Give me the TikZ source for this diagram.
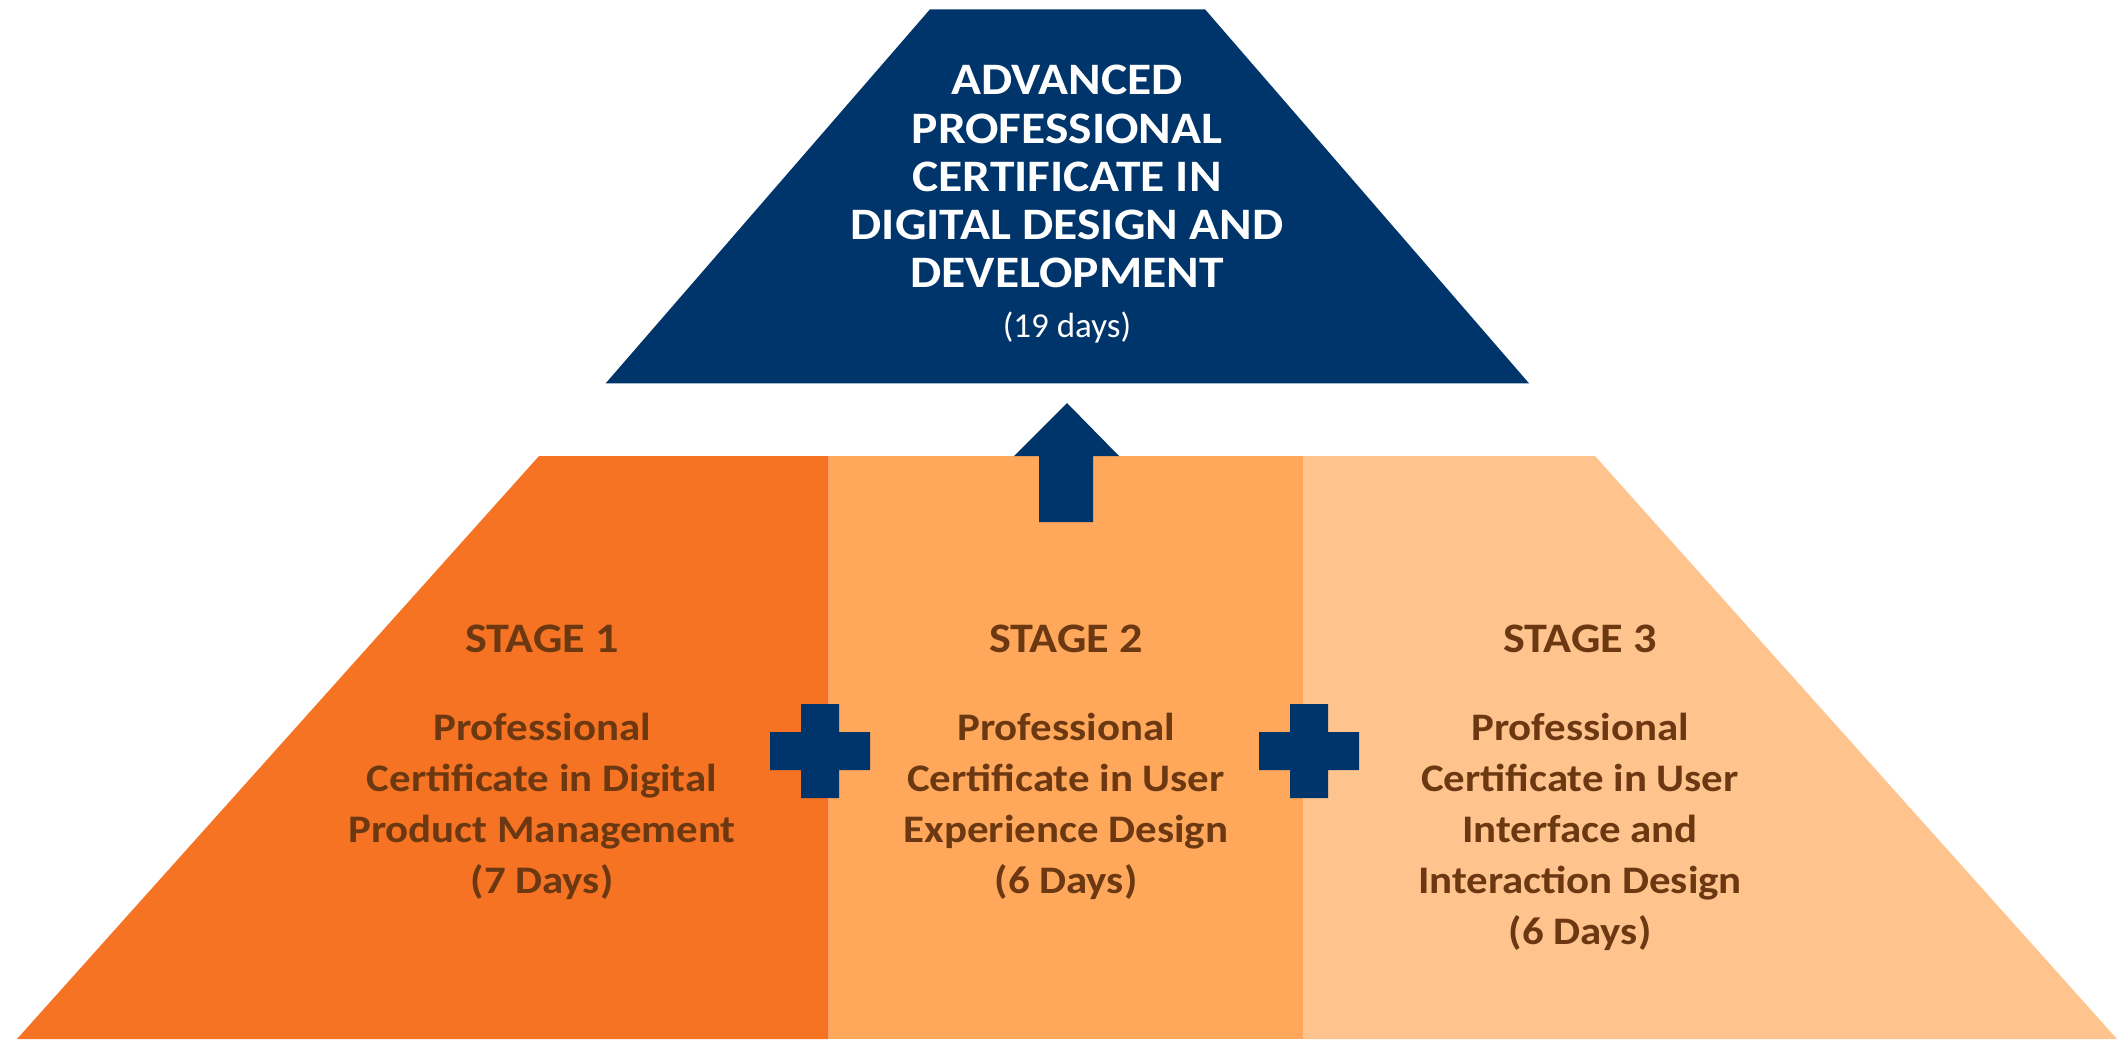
\documentclass[tikz,border=0pt]{standalone}
\usepackage{fontspec}
\setmainfont[FakeStretch=1.1]{Carlito}
\newfontfamily\plainfont{Carlito}
\definecolor{navy}{HTML}{00356B}
\definecolor{stageA}{HTML}{F57322}
\definecolor{stageB}{HTML}{FFA75A}
\definecolor{stageC}{HTML}{FFC48E}
\definecolor{brownText}{HTML}{6B3812}
\begin{document}
\begin{tikzpicture}[x=1pt,y=-1pt,
  titletext/.style={text=white, font=\fontsize{45}{48.3}\selectfont\bfseries, align=center, inner sep=0pt},
  daystext/.style={text=white, font=\plainfont\fontsize{35}{40}\selectfont, inner sep=0pt},
  stagehead/.style={text=brownText, font=\fontsize{42}{51}\selectfont\bfseries, inner sep=0pt},
  stagebody/.style={text=brownText, font=\fontsize{39}{51}\selectfont\bfseries, align=center, inner sep=0pt},
  navyshape/.style={fill=navy}]
\useasboundingbox (0,0) rectangle (2126,1039);
\fill[white] (0,0) rectangle (2126,1039);
% top trapezoid
\fill[navyshape] (930,9.3) -- (1205,9.3) -- (1529,383.3) -- (605.7,383.3) -- cycle;
% bottom trapezoid stages
\fill[stageA] (539,456) -- (828.5,456) -- (828.5,1039) -- (17,1039) -- cycle;
\fill[stageB] (828.5,456) rectangle (1303,1039);
\fill[stageC] (1303,456) -- (1595,456) -- (2117,1039) -- (1303,1039) -- cycle;
% arrow
\fill[navyshape] (1067,403) -- (1119,456) -- (1093,456) -- (1093,522) -- (1039,522) -- (1039,456) -- (1014,456) -- cycle;
% plus signs
\foreach \cx/\cy in {820/751, 1309/751}{
  \fill[navyshape] (\cx-19,\cy-47) -- (\cx+19,\cy-47) -- (\cx+19,\cy-19) -- (\cx+50,\cy-19) -- (\cx+50,\cy+19) -- (\cx+19,\cy+19) -- (\cx+19,\cy+47) -- (\cx-19,\cy+47) -- (\cx-19,\cy+19) -- (\cx-50,\cy+19) -- (\cx-50,\cy-19) -- (\cx-19,\cy-19) -- cycle;
}
% texts
\node[titletext, anchor=north] (title) at (1067,65) {ADVANCED\\PROFESSIONAL\\CERTIFICATE IN\\DIGITAL DESIGN AND\\DEVELOPMENT};
\node[daystext, anchor=base] (days) at (1067,337) {(19 days)};
\node[stagehead, anchor=base] (s1head) at (542,652) {STAGE 1};
\node[stagehead, anchor=base] (s2head) at (1066,652) {STAGE 2};
\node[stagehead, anchor=base] (s3head) at (1580,652) {STAGE 3};
\node[stagebody, anchor=north] (s1body) at (542,713) {Professional\\Certificate in Digital\\Product Management\\(7 Days)};
\node[stagebody, anchor=north] (s2body) at (1066,713) {Professional\\Certificate in User\\Experience Design\\(6 Days)};
\node[stagebody, anchor=north] (s3body) at (1580,713) {Professional\\Certificate in User\\Interface and\\Interaction Design\\(6 Days)};
\end{tikzpicture}
\end{document}
